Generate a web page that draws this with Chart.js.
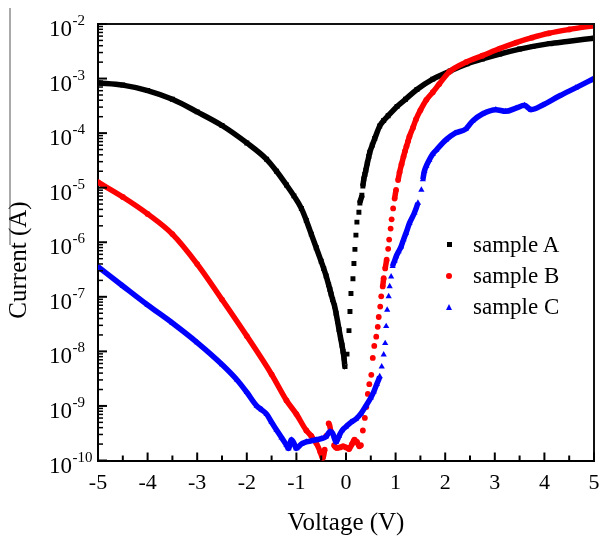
<!DOCTYPE html>
<html>
<head>
<meta charset="utf-8">
<script src="https://cdn.jsdelivr.net/npm/chart.js@4.4.0/dist/chart.umd.min.js"></script>
<style>
  body { margin: 0; background: #fff; }
  .chart { position: relative; width: 600px; height: 538px; }
  #chart__legend { position: absolute; left: 438px; top: 229px; }
  .chart__legend { list-style: none; display: flex; flex-direction: column; }
  .legend__list-item { display: flex; align-items: center; height: 31px; }
  .legend-item__icon { width: 22px; margin-right: 13px; display: flex; justify-content: center; }
  .legend-item__text { margin: 0; font: 23px 'Liberation Serif', serif; color: #000; }
  .icon--rect { width: 5px; height: 5px; }
  .icon--circle { width: 6px; height: 6px; border-radius: 50%; }
  .icon--triangle { width: 0; height: 0; background: none !important;
    border-left: 3.5px solid transparent; border-right: 3.5px solid transparent; border-bottom: 6px solid; }
</style>
</head>
<body>
<div class="chart">
  <canvas id="iv-chart" width="600" height="538"></canvas>
  <div id="chart__legend"></div>
</div>
<script>
// voltage (V) and current (A)
const voltsA = [-5, -4.5, -4, -3.5, -3, -2.5, -2, -1.6, -1.4, -1.2, -1.05, -0.9, -0.8, -0.7, -0.6, -0.5, -0.45, -0.4, -0.35, -0.325, -0.3, -0.27, -0.23, -0.2, -0.17,
  -0.14, -0.11, -0.08, -0.06, -0.04, -0.02, 0.02, 0.06, 0.08, 0.1, 0.14, 0.16, 0.18, 0.2, 0.22, 0.26, 0.28, 0.32, 0.34, 0.36,
  0.38, 0.4, 0.43, 0.46, 0.48, 0.53, 0.58, 0.68, 0.76, 0.85, 1.03, 1.2, 1.43, 1.75, 2.1, 2.44, 2.75, 3.1, 3.5, 3.77, 4.1, 4.46, 5]
const currentA = [8.32e-4, 7.59e-4, 6.03e-4, 4.17e-4, 2.45e-4, 1.38e-4, 6.61e-5, 3.31e-5, 2.0e-5, 1.12e-5, 7.08e-6, 4.17e-6, 2.51e-6, 1.41e-6, 7.94e-7, 4.47e-7, 3.31e-7, 2.40e-7, 1.66e-7, 1.38e-7, 1.12e-7, 8.91e-8, 6.76e-8, 5.01e-8, 3.55e-8,
  2.51e-8, 1.78e-8, 1.29e-8, 1.0e-8, 7.59e-9, 5.25e-9, 8.9e-9, 2.4e-8, 5.4e-8, 1.15e-7, 2.14e-7, 4.07e-7, 7.41e-7, 1.35e-6, 2.34e-6, 3.55e-6, 5.25e-6, 7.24e-6, 1.07e-5, 1.45e-5,
  1.74e-5, 2.09e-5, 2.82e-5, 3.72e-5, 4.47e-5, 6.03e-5, 7.94e-5, 1.35e-4, 1.70e-4, 2.09e-4, 3.09e-4, 4.17e-4, 6.31e-4, 9.77e-4, 1.38e-3, 1.86e-3, 2.29e-3, 2.82e-3, 3.47e-3, 3.89e-3, 4.37e-3, 4.79e-3, 5.50e-3]

const voltsB = [-5, -4.5, -4, -3.5, -3, -2.5, -2, -1.5, -1.2, -1, -0.8, -0.7, -0.6, -0.52, -0.47, -0.43, -0.4, -0.35, -0.3, -0.24,
  -0.18, -0.12, -0.06, 0, 0.06, 0.12, 0.17, 0.22, 0.27, 0.3, 0.34, 0.38, 0.41, 0.44, 0.47, 0.51, 0.54, 0.57, 0.61, 0.64,
  0.66, 0.69, 0.71, 0.74, 0.76, 0.79, 0.82, 0.85, 0.87, 0.9, 0.92, 0.95, 0.98, 1.01, 1.05, 1.08, 1.12, 1.16, 1.19, 1.22, 1.25, 1.28,
  1.35, 1.41, 1.5, 1.62, 1.75, 1.88, 2.08, 2.42, 2.75, 3.1, 3.43, 3.75, 4.09, 4.5, 5]
const currentB = [1.26e-5, 6.76e-6, 3.31e-6, 1.41e-6, 3.98e-7, 8.91e-8, 1.91e-8, 3.80e-9, 1.26e-9, 7.08e-10, 3.55e-10, 2.82e-10, 2.09e-10, 1.45e-10, 1.10e-10, 1.58e-10, 2.82e-10, 4.79e-10, 3.31e-10, 1.91e-10,
  1.70e-10, 1.74e-10, 1.82e-10, 1.74e-10, 1.62e-10, 2.0e-10, 2.40e-10, 2.19e-10, 1.82e-10, 1.91e-10, 3.55e-10, 6.03e-10, 9.55e-10, 1.66e-9, 2.51e-9, 3.72e-9, 7.59e-9, 1.26e-8, 1.86e-8, 2.82e-8,
  4.27e-8, 6.61e-8, 1.02e-7, 1.55e-7, 2.19e-7, 3.31e-7, 4.79e-7, 7.59e-7, 1.12e-6, 1.78e-6, 2.63e-6, 4.17e-6, 6.31e-6, 9.12e-6, 1.38e-5, 1.91e-5, 2.69e-5, 3.72e-5, 4.68e-5, 5.75e-5, 7.08e-5, 8.71e-5,
  1.26e-4, 1.78e-4, 2.63e-4, 4.07e-4, 5.62e-4, 7.94e-4, 1.32e-3, 2.0e-3, 2.63e-3, 3.55e-3, 4.57e-3, 5.62e-3, 6.76e-3, 7.94e-3, 9.33e-3]

const voltsC = [-5, -4.5, -4, -3.5, -3, -2.5, -2.2, -2, -1.8, -1.7, -1.6, -1.5, -1.4, -1.3, -1.2, -1.16, -1.1, -1.05, -1, -0.9,
  -0.8, -0.7, -0.6, -0.5, -0.4, -0.32, -0.27, -0.2, -0.14, -0.08, 0, 0.1, 0.2, 0.3, 0.4, 0.5, 0.56, 0.62, 0.68, 0.72,
  0.76, 0.79, 0.81, 0.83, 0.86, 0.88, 0.91, 0.94, 0.98, 1.01, 1.06, 1.11, 1.16, 1.21, 1.28, 1.38, 1.45, 1.52, 1.55, 1.58,
  1.62, 1.68, 1.75, 1.82, 2.02, 2.2, 2.42, 2.55, 2.75, 3.02, 3.22, 3.43, 3.6, 3.73, 3.96, 4.3, 4.63, 5]
const currentC = [3.55e-7, 1.58e-7, 7.08e-8, 3.31e-8, 1.45e-8, 5.75e-9, 3.02e-9, 1.78e-9, 1.0e-9, 8.51e-10, 7.08e-10, 5.01e-10, 3.63e-10, 2.63e-10, 1.91e-10, 1.66e-10, 2.40e-10, 2.09e-10, 1.66e-10, 2.0e-10,
  2.19e-10, 2.29e-10, 2.40e-10, 2.51e-10, 2.75e-10, 3.39e-10, 3.16e-10, 2.19e-10, 2.82e-10, 3.55e-10, 4.17e-10, 5.01e-10, 5.75e-10, 7.24e-10, 1.0e-9, 1.41e-9, 1.82e-9, 2.51e-9, 3.47e-9, 5.25e-9,
  8.71e-9, 1.41e-8, 2.88e-8, 5.75e-8, 1.02e-7, 1.55e-7, 2.34e-7, 3.63e-7, 4.57e-7, 5.50e-7, 6.76e-7, 8.32e-7, 1.12e-6, 1.48e-6, 2.24e-6, 3.47e-6, 5.25e-6, 9.12e-6, 1.41e-5, 2.0e-5,
  2.51e-5, 3.24e-5, 4.17e-5, 4.90e-5, 7.59e-5, 1.0e-4, 1.20e-4, 1.66e-4, 2.24e-4, 2.69e-4, 2.51e-4, 2.88e-4, 3.24e-4, 2.69e-4, 3.24e-4, 4.79e-4, 6.76e-4, 1.0e-3]

const sampleNames = ['sample A', 'sample B', 'sample C']
const FONT = "'Liberation Serif', 'Times New Roman', serif"

const toPoints = (xs, ys) => xs.map((x, i) => ({x, y: ys[i]}))

// where the curve is steep the measured points stand apart, so no joining line there
const gapSegment = ctx => {
  const dx = Math.abs(ctx.p1.x - ctx.p0.x)
  const dy = Math.abs(ctx.p1.y - ctx.p0.y)
  return dy > 9 && dy > 3 * dx ? 'rgba(0,0,0,0)' : undefined
}

const makeSet = (label, xs, ys, color, style, radius, order) => ({
  label,
  data: toPoints(xs, ys),
  showLine: true,
  borderColor: color,
  backgroundColor: color,
  borderWidth: 5.5,
  cubicInterpolationMode: 'monotone',
  pointStyle: style,
  pointRadius: radius,
  pointBorderWidth: 0,
  pointBackgroundColor: color,
  segment: { borderColor: gapSegment },
  order,
})

const getOrCreateLegendList = (id) => {
  const legendContainer = document.getElementById(id)
  let listContainer = legendContainer.querySelector('ul')
  if (!listContainer) {
    listContainer = document.createElement('ul')
    listContainer.style.margin = 0
    listContainer.style.padding = 0
    legendContainer.appendChild(listContainer)
  }
  return listContainer
}

const htmlLegendPlugin = {
  id: 'htmlLegend',
  afterUpdate(chart, args, options) {
    const ul = getOrCreateLegendList(options.containerID)
    ul.classList.add('chart__legend')
    while (ul.firstChild) ul.firstChild.remove()

    chart.data.datasets.forEach(ds => {
      const li = document.createElement('li')
      li.classList.add('legend__list-item')

      const iconBox = document.createElement('span')
      iconBox.classList.add('legend-item__icon')
      const icon = document.createElement('span')
      icon.classList.add('icon--' + ds.pointStyle)
      icon.style.background = ds.backgroundColor
      icon.style.borderBottomColor = ds.backgroundColor
      iconBox.appendChild(icon)

      const text = document.createElement('p')
      text.classList.add('legend-item__text')
      text.appendChild(document.createTextNode(ds.label))

      li.appendChild(iconBox)
      li.appendChild(text)
      ul.appendChild(li)
    })
  }
}

// inward ticks, boxed frame, 10^n labels and the rotated y title
const framePlugin = {
  id: 'frame',
  afterDraw(chart) {
    const {ctx, chartArea: {left, right, top, bottom}, scales: {x, y}} = chart
    ctx.save()
    ctx.strokeStyle = '#111'
    ctx.lineWidth = 2
    ctx.beginPath()
    ctx.moveTo(left, top)
    ctx.lineTo(right, top)
    ctx.lineTo(right, bottom)
    ctx.stroke()

    ctx.strokeStyle = '#000'
    ctx.lineWidth = 2
    x.ticks.forEach(t => {
      const px = x.getPixelForValue(t.value)
      ctx.beginPath(); ctx.moveTo(px, bottom); ctx.lineTo(px, bottom - 8); ctx.stroke()
      if (t.value + 0.5 < x.max) {
        const mx = x.getPixelForValue(t.value + 0.5)
        ctx.beginPath(); ctx.moveTo(mx, bottom); ctx.lineTo(mx, bottom - 5); ctx.stroke()
      }
    })

    const eMin = Math.round(Math.log10(y.min))
    const eMax = Math.round(Math.log10(y.max))
    for (let e = eMin; e <= eMax; e++) {
      for (let m = 1; m <= 9; m++) {
        if (e === eMax && m > 1) break
        const py = y.getPixelForValue(m * Math.pow(10, e))
        ctx.lineWidth = m === 1 ? 2 : 1.5
        ctx.beginPath(); ctx.moveTo(left, py); ctx.lineTo(left + (m === 1 ? 9 : 5), py); ctx.stroke()
      }
      const py = y.getPixelForValue(Math.pow(10, e))
      ctx.fillStyle = '#000'
      ctx.textBaseline = 'alphabetic'
      ctx.font = '23px ' + FONT
      ctx.textAlign = 'right'
      ctx.fillText('10', 72, py + 12)
      ctx.font = '15px ' + FONT
      ctx.textAlign = 'left'
      ctx.fillText(String(e), 72.5, py + 1)
    }

    ctx.translate(26, 260)
    ctx.rotate(-Math.PI / 2)
    ctx.font = '25px ' + FONT
    ctx.textAlign = 'center'
    ctx.fillText('Current (A)', 0, 0)
    ctx.restore()

    ctx.save()
    ctx.strokeStyle = '#555'
    ctx.lineWidth = 1
    ctx.beginPath(); ctx.moveTo(10, 8); ctx.lineTo(10, 245); ctx.stroke()
    ctx.restore()
  }
}

new Chart(document.getElementById('iv-chart'), {
  type: 'scatter',
  data: {
    datasets: [
      makeSet(sampleNames[0], voltsA, currentA, '#000000', 'rect', 3.5, 3),
      makeSet(sampleNames[1], voltsB, currentB, '#ff0000', 'circle', 2.9, 2),
      makeSet(sampleNames[2], voltsC, currentC, '#0000ff', 'triangle', 3.6, 1),
    ]
  },
  options: {
    responsive: false,
    animation: false,
    layout: { padding: { top: 24, right: 6, left: 0, bottom: 0 } },
    scales: {
      x: {
        type: 'linear',
        min: -5,
        max: 5,
        afterFit: scale => {
          scale.height = 77.5
          scale.paddingLeft = 0
          scale.paddingRight = 0
        },
        ticks: { stepSize: 1, color: '#000', padding: 10, font: { family: FONT, size: 22 } },
        grid: { display: false, drawTicks: false },
        border: { display: true, color: '#000', width: 2 },
        title: { display: true, text: 'Voltage (V)', color: '#000', padding: { bottom: 0 }, font: { family: FONT, size: 25 } }
      },
      y: {
        type: 'logarithmic',
        min: 1e-10,
        max: 1e-2,
        afterFit: scale => {
          scale.width = 98
          scale.paddingTop = 0
          scale.paddingBottom = 0
        },
        ticks: { display: false },
        grid: { display: false, drawTicks: false },
        border: { display: true, color: '#000', width: 2 }
      }
    },
    plugins: {
      htmlLegend: { containerID: 'chart__legend' },
      legend: { display: false },
      tooltip: { enabled: false }
    }
  },
  plugins: [htmlLegendPlugin, framePlugin]
})
</script>
</body>
</html>
